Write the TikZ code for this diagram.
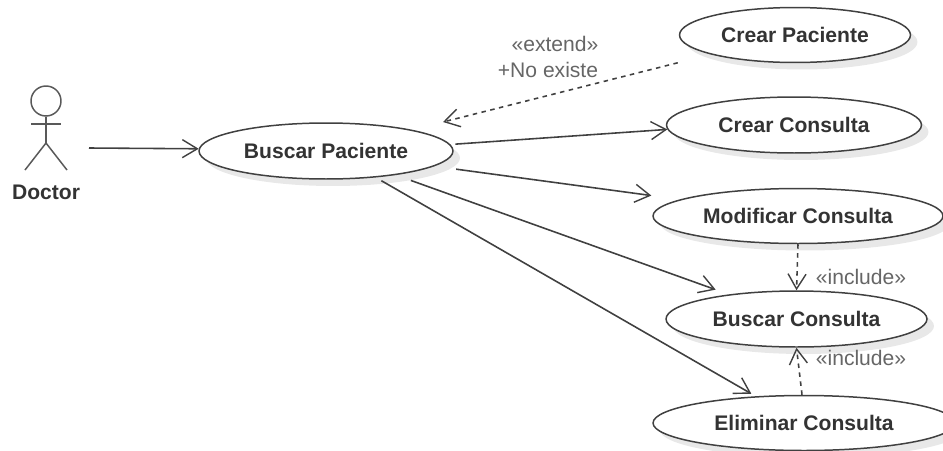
\documentclass[tikz,border=0pt]{standalone}
\usepackage{fontspec}
\setmainfont{Liberation Sans}
\usetikzlibrary{arrows.meta,shapes.geometric,shadows}
\tikzset{
  >={Straight Barb[length=0.3cm,width=0.36cm,line width=0.8pt]},
  usecase/.style={ellipse, draw=black!75, line width=0.85pt, fill=white, inner sep=0pt,
    text=black!80, font=\bfseries\fontsize{12}{14}\selectfont,
    drop shadow={shadow xshift=0.14cm, shadow yshift=-0.14cm, fill=black, opacity=0.09}},
  assoc/.style={->, draw=black!75, line width=0.9pt},
  depend/.style={->, draw=black!75, line width=0.9pt, dash pattern=on 0.09cm off 0.09cm},
  stereo/.style={text=black!60, font=\fontsize{12}{14}\selectfont, inner sep=0pt},
  stick/.style={draw=black!65, line width=0.85pt}
}
\begin{document}
\begin{tikzpicture}[x=0.02cm, y=-0.02cm]
  \useasboundingbox (0,0) rectangle (943,450);
  % actor
  \node[circle, stick, minimum size=0.6cm, inner sep=0pt] (doctorHead) at (46,101) {};
  \coordinate (doctorHip) at (46,143);
  \coordinate (armLeft) at (31,124);
  \coordinate (armRight) at (61,124);
  \coordinate (footLeft) at (25,170);
  \coordinate (footRight) at (67,170);
  \draw[stick] (doctorHead.south) -- (doctorHip);
  \draw[stick] (armLeft) -- (armRight);
  \draw[stick] (footLeft) -- (doctorHip) -- (footRight);
  \node[text=black!80, font=\bfseries\fontsize{12}{14}\selectfont, inner sep=0pt] (doctor) at (46,192.5) {Doctor};
  \coordinate (doctorOut) at (89,148);
  % use cases
  \node[usecase, minimum width=5.08cm, minimum height=1.12cm] (buscarPaciente) at (326,151) {Buscar Paciente};
  \node[usecase, minimum width=4.62cm, minimum height=1.1cm] (crearPaciente) at (795,35) {Crear Paciente};
  \node[usecase, minimum width=5.1cm, minimum height=1.12cm] (crearConsulta) at (794,125) {Crear Consulta};
  \node[usecase, minimum width=5.8cm, minimum height=1.1cm] (modificarConsulta) at (798,216) {Modificar Consulta};
  \node[usecase, minimum width=5.22cm, minimum height=1.12cm] (buscarConsulta) at (796.5,319) {Buscar Consulta};
  \node[usecase, minimum width=6.04cm, minimum height=1.1cm] (eliminarConsulta) at (804,423) {Eliminar Consulta};
  % associations
  \draw[assoc] (doctorOut) -- (buscarPaciente.179);
  \draw[assoc, shorten <=0.1cm] (buscarPaciente.3.1) -- (crearConsulta.182.2);
  \draw[assoc, shorten <=0.44cm, shorten >=0.58cm] (buscarPaciente.-8) -- (modificarConsulta.172.2);
  \draw[assoc, shorten <=0.32cm, shorten >=0.28cm] (buscarPaciente.-19.6) -- (buscarConsulta.160.4);
  \draw[assoc, shorten <=0.13cm, shorten >=0.1cm] (buscarPaciente.-28) -- (eliminarConsulta.151);
  % dependencies
  \coordinate (extendEnd) at (443,122);
  \draw[depend, shorten <=0.68cm] (crearPaciente.193) -- (extendEnd);
  \draw[depend] (modificarConsulta.south) -- (buscarConsulta.north);
  \draw[depend] (eliminarConsulta.94) -- (buscarConsulta.south);
  % stereotypes
  \node[stereo] (extendLabel) at (555,44) {«extend»};
  \node[stereo] (existeLabel) at (548,70) {+No existe};
  \node[stereo] (includeTop) at (861,277) {«include»};
  \node[stereo] (includeBottom) at (861,358) {«include»};
\end{tikzpicture}
\end{document}
